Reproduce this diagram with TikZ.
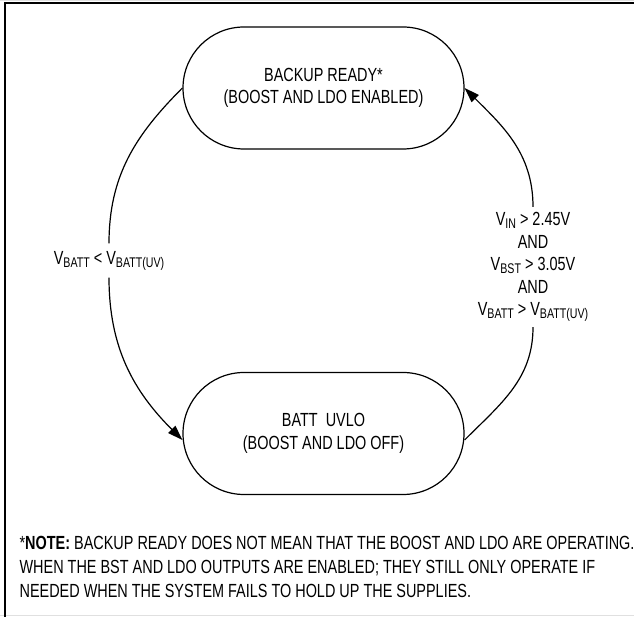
\documentclass[tikz,border=0pt]{standalone}
\usepackage{fontspec}
\setmainfont[FakeStretch=0.76]{Liberation Sans}
\usetikzlibrary{arrows.meta}

\newcommand\vsub[1]{\raisebox{-3pt}{\fontsize{14}{14}\selectfont #1}}

\begin{document}
\begin{tikzpicture}[x=1pt,y=1pt,font=\fontsize{19}{22.5}\selectfont,
    line width=1.2pt,>={Triangle[length=15pt,width=10pt]}]

      \useasboundingbox (0,0) rectangle (634,617);

      % frame
      \draw[black!12,line width=1pt] (0,616.5) -- (634,616.5);
      \draw[black!12,line width=1pt] (0,1) -- (634,1);
      \draw[line width=2pt] (4.5,0) -- (4.5,613.5) -- (634,613.5);

      \begin{scope}[every node/.style={draw,rounded corners=61pt,minimum width=281pt,minimum height=122pt,align=center}]
        \node (ready) at (323.5,529)   {BACKUP READY*\\(BOOST AND LDO ENABLED)};
        \node (uvlo)  at (323.5,183.5) {BATT~~UVLO\\(BOOST AND LDO OFF)};
      \end{scope}

      \begin{scope}[every node/.style={fill=white,align=center}]
        \node[inner sep=7pt] (vlow)  at (109,356.5) {V\vsub{BATT} < V\vsub{BATT(UV)}};
        \node[inner sep=5pt] (vhigh) at (533,350) {V\vsub{IN} > 2.45V\\AND\\V\vsub{BST} > 3.05V\\AND\\V\vsub{BATT} > V\vsub{BATT(UV)}};
      \end{scope}

      \draw (ready.west) to[out=225,in=90] (vlow.north);
      \draw[->] (vlow.south) to[out=-90,in=135] ([yshift=-6.5pt]uvlo.west);
      \draw ([yshift=-6.5pt]uvlo.east) to[out=45,in=-90] (vhigh.south);
      \draw[->] (vhigh.north) to[out=90,in=-45] (ready.east);

      \node[anchor=north west,align=left,inner sep=0pt,font=\fontsize{19}{24}\selectfont] (note) at (19,81)
        {*\textbf{NOTE:} BACKUP READY DOES NOT MEAN THAT THE BOOST AND LDO ARE OPERATING.\\
         WHEN THE BST AND LDO OUTPUTS ARE ENABLED; THEY STILL ONLY OPERATE IF\\
         NEEDED WHEN THE SYSTEM FAILS TO HOLD UP THE SUPPLIES.};

    \end{tikzpicture}
\end{document}
